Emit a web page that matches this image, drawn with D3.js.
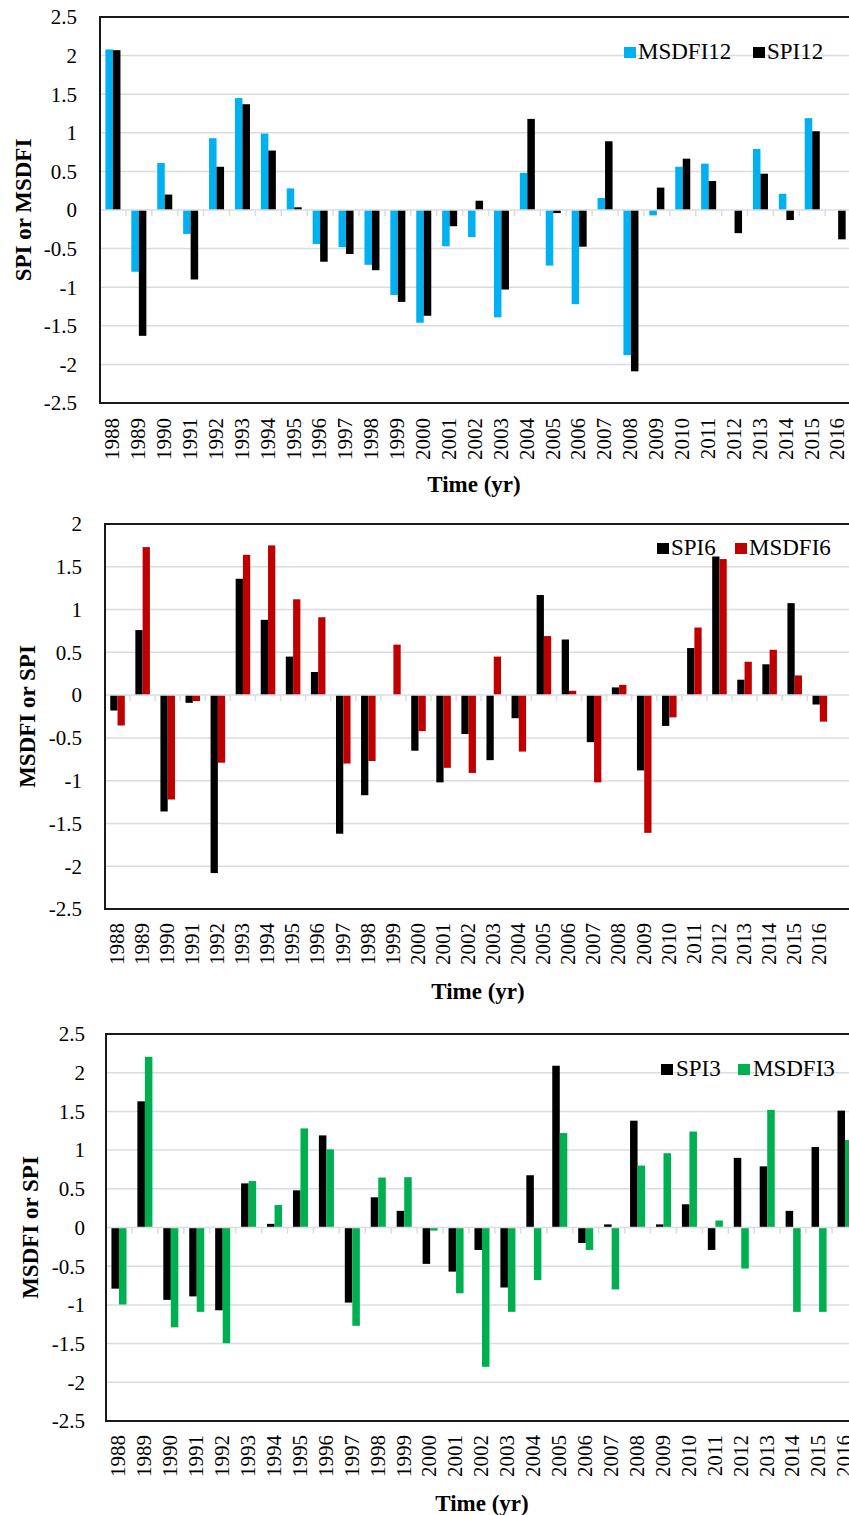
<!DOCTYPE html>
<html>
<head>
<meta charset="utf-8">
<script src="https://cdn.jsdelivr.net/npm/d3@7"></script>
<style>
  body { margin: 0; background: #fff; }
  svg { display: block; }
  svg text { font-family: 'Liberation Serif', 'Times New Roman', 'DejaVu Serif', serif; }
  .tick-label { font-size: 21px; fill: #000; }
  .axis-title { font-size: 23px; font-weight: bold; fill: #000; }
  .legend-text { font-size: 23px; fill: #000; }
</style>
</head>
<body>
<svg width="849" height="1515"></svg>
<script>
const years = ['1988', '1989', '1990', '1991', '1992', '1993', '1994', '1995', '1996', '1997',
  '1998', '1999', '2000', '2001', '2002', '2003', '2004', '2005', '2006', '2007',
  '2008', '2009', '2010', '2011', '2012', '2013', '2014', '2015', '2016'];

// panel 1 (12-month)
const msdfi12 = [2.08, -0.80, 0.61, -0.31, 0.93, 1.45, 0.99, 0.28, -0.44, -0.48,
  -0.71, -1.10, -1.46, -0.47, -0.35, -1.39, 0.48, -0.72, -1.22, 0.155,
  -1.88, -0.07, 0.56, 0.60, 0, 0.79, 0.21, 1.19, 0];
const spi12 = [2.07, -1.63, 0.20, -0.90, 0.56, 1.37, 0.77, 0.035, -0.67, -0.57,
  -0.78, -1.19, -1.37, -0.21, 0.12, -1.03, 1.18, -0.04, -0.475, 0.89,
  -2.09, 0.29, 0.665, 0.375, -0.30, 0.47, -0.13, 1.02, -0.38];

// panel 2 (6-month)
const spi6 = [-0.18, 0.76, -1.36, -0.09, -2.08, 1.36, 0.88, 0.45, 0.27, -1.62,
  -1.17, 0, -0.65, -1.02, -0.455, -0.76, -0.27, 1.17, 0.65, -0.55,
  0.09, -0.88, -0.36, 0.55, 1.62, 0.18, 0.36, 1.075, -0.11];
const msdfi6 = [-0.355, 1.73, -1.22, -0.07, -0.79, 1.64, 1.75, 1.12, 0.91, -0.80,
  -0.77, 0.59, -0.42, -0.85, -0.91, 0.45, -0.66, 0.69, 0.05, -1.02,
  0.12, -1.61, -0.26, 0.79, 1.59, 0.39, 0.53, 0.23, -0.31];

// panel 3 (3-month)
const spi3 = [-0.79, 1.63, -0.935, -0.89, -1.07, 0.57, 0.047, 0.48, 1.19, -0.97,
  0.39, 0.215, -0.47, -0.57, -0.29, -0.775, 0.675, 2.09, -0.20, 0.04,
  1.38, 0.04, 0.30, -0.29, 0.90, 0.79, 0.215, 1.04, 1.51];
const msdfi3 = [-0.995, 2.205, -1.29, -1.09, -1.495, 0.60, 0.29, 1.28, 1.01, -1.27,
  0.645, 0.65, -0.04, -0.85, -1.80, -1.09, -0.68, 1.22, -0.29, -0.80,
  0.80, 0.96, 1.24, 0.09, -0.53, 1.52, -1.09, -1.09, 1.13];

const ticksA = [2.5, 2, 1.5, 1, 0.5, 0, -0.5, -1, -1.5, -2, -2.5];
const ticksB = [2, 1.5, 1, 0.5, 0, -0.5, -1, -1.5, -2, -2.5];

const svg = d3.select('svg');

const panels = [
  {
    series: [
      { name: 'MSDFI12', values: msdfi12, color: '#00B0F0' },
      { name: 'SPI12', values: spi12, color: '#000000' }
    ],
    yTitle: 'SPI or MSDFI', ticks: ticksA, domain: [-2.5, 2.5],
    left: 100, step: 25.9, frameRight: 860, top: 17, bottom: 403,
    tickRight: 77, yTitleX: 23, labelTop: 418, timeY: 492, timeX: 474,
    legend: [{ sx: 624, tx: 638 }, { sx: 753, tx: 767 }], legendY: 59
  },
  {
    series: [
      { name: 'SPI6', values: spi6, color: '#000000' },
      { name: 'MSDFI6', values: msdfi6, color: '#C00000' }
    ],
    yTitle: 'MSDFI or SPI', ticks: ticksB, domain: [-2.5, 2],
    left: 105, step: 25.08, frameRight: 860, top: 524, bottom: 909,
    tickRight: 82, yTitleX: 27, labelTop: 923, timeY: 999, timeX: 478,
    legend: [{ sx: 657, tx: 671 }, { sx: 735, tx: 749 }], legendY: 555
  },
  {
    series: [
      { name: 'SPI3', values: spi3, color: '#000000' },
      { name: 'MSDFI3', values: msdfi3, color: '#00B050' }
    ],
    yTitle: 'MSDFI or SPI', ticks: ticksA, domain: [-2.5, 2.5],
    left: 106, step: 25.93, frameRight: 870, top: 1034, bottom: 1421,
    tickRight: 85, yTitleX: 30, labelTop: 1435, timeY: 1511, timeX: 482,
    legend: [{ sx: 661, tx: 676 }, { sx: 738, tx: 753 }], legendY: 1076
  }
];

const render = p => {
  const catRight = p.left + p.step * years.length;

  const xScale = d3.scaleBand()
    .domain(years)
    .range([p.left, catRight])
    .paddingInner(0.42)
    .paddingOuter(0.21);

  const xSub = d3.scaleBand()
    .domain(p.series.map(s => s.name))
    .range([0, xScale.bandwidth()]);

  const yScale = d3.scaleLinear()
    .domain(p.domain)
    .range([p.bottom, p.top]);

  const g = svg.append('g');

  // gridlines
  g.selectAll('.grid').data(p.ticks.filter(t => t !== 0))
    .enter().append('line')
      .attr('x1', p.left).attr('x2', p.frameRight)
      .attr('y1', d => yScale(d)).attr('y2', d => yScale(d))
      .attr('stroke', '#d9dce2')
      .attr('stroke-width', 1.5);

  // y tick labels
  g.selectAll('.ylab').data(p.ticks)
    .enter().append('text')
      .attr('class', 'tick-label')
      .attr('x', p.tickRight)
      .attr('y', d => yScale(d))
      .attr('dy', '0.35em')
      .attr('text-anchor', 'end')
      .text(d => d);

  // bars
  p.series.forEach(s => {
    g.selectAll(null).data(s.values)
      .enter().append('rect')
        .attr('x', (d, i) => xScale(years[i]) + xSub(s.name))
        .attr('width', xSub.bandwidth())
        .attr('y', d => yScale(Math.max(0, d)))
        .attr('height', d => Math.abs(yScale(d) - yScale(0)))
        .attr('fill', s.color);
  });

  // zero axis line with category tick marks
  const y0 = yScale(0);
  g.append('line')
    .attr('x1', p.left).attr('x2', p.frameRight)
    .attr('y1', y0).attr('y2', y0)
    .attr('stroke', '#d9dce2')
    .attr('stroke-width', 1.5);
  g.selectAll('.ctick').data(years)
    .enter().append('line')
      .attr('x1', d => xScale(d) - xScale.step() * 0.21)
      .attr('x2', d => xScale(d) - xScale.step() * 0.21)
      .attr('y1', y0).attr('y2', y0 + 6)
      .attr('stroke', '#d9dce2')
      .attr('stroke-width', 1.5);

  // frame
  g.append('rect')
    .attr('x', p.left).attr('y', p.top)
    .attr('width', p.frameRight - p.left)
    .attr('height', p.bottom - p.top)
    .attr('fill', 'none')
    .attr('stroke', '#1a1a1a')
    .attr('stroke-width', 2);

  // x tick labels
  g.selectAll('.xlab').data(years)
    .enter().append('text')
      .attr('class', 'tick-label')
      .attr('transform', d => `translate(${xScale(d) + xScale.bandwidth() / 2},${p.labelTop}) rotate(-90)`)
      .attr('text-anchor', 'end')
      .attr('dy', '0.3em')
      .text(d => d);

  // axis titles
  g.append('text')
    .attr('class', 'axis-title')
    .attr('transform', `translate(${p.yTitleX},${(p.top + p.bottom) / 2}) rotate(-90)`)
    .attr('text-anchor', 'middle')
    .attr('dy', '0.35em')
    .text(p.yTitle);

  g.append('text')
    .attr('class', 'axis-title')
    .attr('x', p.timeX)
    .attr('y', p.timeY)
    .attr('text-anchor', 'middle')
    .text('Time (yr)');

  // legend
  p.series.forEach((s, i) => {
    const l = p.legend[i];
    g.append('rect')
      .attr('x', l.sx).attr('y', p.legendY - 12)
      .attr('width', 12).attr('height', 11)
      .attr('fill', s.color);
    g.append('text')
      .attr('class', 'legend-text')
      .attr('x', l.tx).attr('y', p.legendY)
      .text(s.name);
  });
};

panels.forEach(render);
</script>
</body>
</html>
